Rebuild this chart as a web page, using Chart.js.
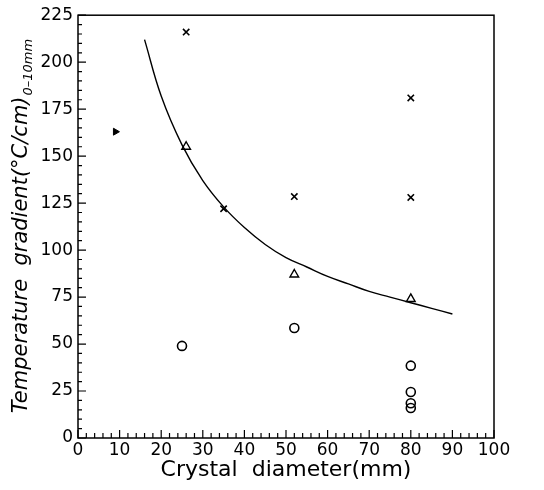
<!DOCTYPE html>
<html><head><meta charset="utf-8">
<script src="https://cdn.jsdelivr.net/npm/chart.js@4"></script>
<style>html,body{margin:0;padding:0;background:#fff}#wrap{width:544px;height:490px}</style>
</head><body><div id="wrap"><canvas id="c" width="544" height="490"></canvas></div>
<script>
const xTicks = [0,10,20,30,40,50,60,70,80,90,100];
const yTicks = [0,25,50,75,100,125,150,175,200,225];
const crossX = [26, 35, 52, 80, 80];
const crossY = [216, 122, 128.5, 181, 128];
const triX = [26, 52, 80];
const triY = [155, 87, 74];
const circX = [25, 52, 80, 80, 80, 80];
const circY = [49, 58.5, 38.5, 24.5, 18.5, 16];
const fillX = [9];
const fillY = [163];
const curveX = [16, 20, 25, 30, 35, 40, 45, 50, 55, 60, 65, 70, 75, 80, 85, 90];
const curveY = [212, 182, 156, 137, 123, 112, 103, 96, 91, 86, 82, 78, 75, 72, 69, 66];
const xTitle = "Crystal  diameter(mm)";
const yTitle = "Temperature  gradient(°C/cm)";
const ySub = "0\u201310mm";

const pts = (xs, ys) => xs.map((x, i) => ({x, y: ys[i]}));
const FONT = "'DejaVu Sans', sans-serif";

const framePlugin = {
  id: 'frame',
  afterDraw(chart) {
    const ctx = chart.ctx, a = chart.chartArea;
    const xs = chart.scales.x, ys = chart.scales.y;
    ctx.save();
    ctx.strokeStyle = '#000';
    ctx.lineWidth = 1.5;
    ctx.strokeRect(a.left, a.top, a.right - a.left, a.bottom - a.top);
    ctx.lineWidth = 1.2;
    ctx.beginPath();
    for (let v = 0; v <= 225; v += 5) {
      const p = ys.getPixelForValue(v);
      const len = (v % 25 === 0) ? 8 : 4;
      ctx.moveTo(a.left, p); ctx.lineTo(a.left + len, p);
    }
    for (let v = 0; v <= 100; v += 2) {
      const p = xs.getPixelForValue(v);
      const len = (v % 10 === 0) ? 8 : 5;
      ctx.moveTo(p, a.bottom); ctx.lineTo(p, a.bottom - len);
    }
    ctx.stroke();
    // y title with subscript
    ctx.fillStyle = '#000';
    ctx.translate(22, (a.top + a.bottom) / 2);
    ctx.rotate(-Math.PI / 2);
    ctx.font = "italic 21px " + FONT;
    const mainW = ctx.measureText(yTitle).width;
    ctx.font = "italic 13px " + FONT;
    const subW = ctx.measureText(ySub).width;
    const total = mainW + subW;
    ctx.textBaseline = 'middle';
    ctx.textAlign = 'left';
    ctx.font = "italic 21px " + FONT;
    ctx.fillText(yTitle, -total / 2, 0);
    ctx.font = "italic 13px " + FONT;
    ctx.fillText(ySub, -total / 2 + mainW + 1, 7);
    ctx.restore();
  }
};

new Chart(document.getElementById('c'), {
  type: 'scatter',
  data: {
    datasets: [
      { type: 'line', data: pts(curveX, curveY), borderColor: '#000', borderWidth: 1.4,
        pointRadius: 0, fill: false, tension: 0.4 },
      { data: pts(crossX, crossY), pointStyle: 'crossRot', pointRadius: 4.5,
        borderColor: '#000', borderWidth: 1.6, backgroundColor: '#000' },
      { data: pts(triX, triY), pointStyle: 'triangle', pointRadius: 5,
        borderColor: '#000', borderWidth: 1.4, backgroundColor: 'rgba(0,0,0,0)' },
      { data: pts(circX, circY), pointStyle: 'circle', pointRadius: 4.5,
        borderColor: '#000', borderWidth: 1.6, backgroundColor: 'rgba(0,0,0,0)' },
      { data: pts(fillX, fillY), pointStyle: 'triangle', pointRadius: 4, rotation: 90,
        borderColor: '#000', borderWidth: 1, backgroundColor: '#000' }
    ]
  },
  options: {
    responsive: false,
    animation: false,
    layout: { padding: { left: 0, right: 50, top: 12, bottom: 0 } },
    plugins: { legend: { display: false }, tooltip: { enabled: false } },
    scales: {
      x: {
        type: 'linear', min: 0, max: 100,
        afterBuildTicks: s => { s.ticks = xTicks.map(v => ({value: v})); },
        afterFit: s => { s.height = 52; },
        grid: { display: false, drawTicks: false },
        border: { display: false },
        ticks: { color: '#000', font: { family: FONT, size: 17 }, padding: 2, maxRotation: 0 },
        title: { display: true, text: xTitle, color: '#000',
                 font: { family: FONT, size: 22 }, padding: { top: 0, bottom: 7 } }
      },
      y: {
        type: 'linear', min: 0, max: 225,
        afterBuildTicks: s => { s.ticks = yTicks.map(v => ({value: v})); },
        afterFit: s => { s.width = 78; },
        grid: { display: false, drawTicks: false },
        border: { display: false },
        ticks: { color: '#000', font: { family: FONT, size: 17 }, padding: 5 }
      }
    }
  },
  plugins: [framePlugin]
});
</script>
</body></html>
